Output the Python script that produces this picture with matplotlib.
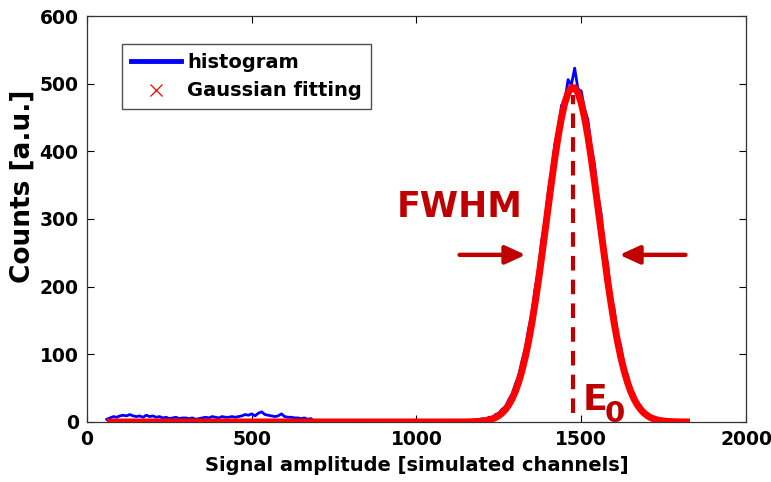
import numpy as np
import matplotlib
matplotlib.use("Agg")
import matplotlib.pyplot as plt
from matplotlib.lines import Line2D

plt.rcParams['font.family'] = ['DejaVu Sans']
plt.rcParams['font.weight'] = 'bold'

# Histogram: channel centres and counts
hist_channels = np.arange(60, 1810, 10)
hist_low = [4, 6, 8, 7, 9, 10, 9, 11, 9, 8, 9, 7, 10, 8, 9, 7, 8, 6, 7, 5,
            6, 7, 5, 6, 6, 5, 6, 4, 5, 6, 7, 6, 8, 7, 6, 8, 7, 7, 8, 7,
            8, 9, 11, 10, 12, 9, 13, 15, 11, 10, 9, 8, 9, 12, 8, 7, 7, 6, 6, 5,
            6, 4, 5]                      # 60 .. 680
hist_gap = [0] * 46                       # 690 .. 1140
hist_peak = [1, 0, 2, 1, 3, 5, 3, 7, 6, 11, 13, 19, 22, 33, 41, 56, 68, 90, 108, 137,
             160, 197, 226, 268, 296, 341, 370, 411, 431, 468, 474, 506, 498, 523, 492,
             489, 462, 447, 408, 381, 336, 309, 259, 233, 188, 166, 129, 112, 82, 70,
             50, 41, 28, 24, 14, 12, 7, 6, 3, 4, 1, 2, 0, 1, 0, 0]   # 1150 .. 1800
hist_counts = hist_low + hist_gap + hist_peak

# Gaussian fit evaluated on the channel grid
fit_channels = np.arange(60, 1840, 10)
fit_flat = [0.0] * 109                    # 60 .. 1140
fit_peak = [0.1, 0.2, 0.4, 0.6, 0.9, 1.4, 2.1, 3.1, 4.6, 6.6, 9.5, 13.4, 18.6, 25.4,
            34.2, 45.2, 59.0, 75.8, 95.8, 119.2, 146.0, 176.2, 209.2, 244.6, 281.5,
            319.0, 355.9, 390.8, 422.6, 449.8, 471.4, 486.4, 494.0, 494.0, 486.4,
            471.4, 449.8, 422.6, 390.8, 355.9, 319.0, 281.5, 244.6, 209.2, 176.2,
            146.0, 119.2, 95.8, 75.8, 59.0, 45.2, 34.2, 25.4, 18.6, 13.4, 9.5, 6.6,
            4.6, 3.1, 2.1, 1.4, 0.9, 0.6, 0.4, 0.2, 0.1]          # 1150 .. 1800
fit_tail = [0.0, 0.0, 0.0]               # 1810 .. 1830
fit_counts = fit_flat + fit_peak + fit_tail

peak_channel = 1475
peak_line_range = [13, 483]
fwhm_left = 1381
fwhm_right = 1566
half_max = 247

x_ticks = [0, 500, 1000, 1500, 2000]
y_ticks = [0, 100, 200, 300, 400, 500, 600]

dark_red = '#C00000'

fig = plt.figure(figsize=(7.71, 4.82), dpi=100)
ax = fig.add_axes([0.1128, 0.1245, 0.8548, 0.8423])

ax.plot(hist_channels, hist_counts, color='#0000FF', lw=2.0, zorder=2)
ax.plot(fit_channels, fit_counts, color='#FF0000', lw=5, solid_capstyle='butt', zorder=3)

# peak position
ax.plot([peak_channel, peak_channel], peak_line_range, color=dark_red, lw=3,
        dashes=(3.5, 2.2), zorder=4)

# FWHM arrows
arrow_kw = dict(arrowstyle='-|>,head_length=1.2,head_width=0.55', color=dark_red,
                lw=3.2, shrinkA=0, shrinkB=0)
ax.annotate('', xy=(fwhm_left - 50, half_max), xytext=(fwhm_left - 250, half_max),
            arrowprops=arrow_kw, zorder=5)
ax.annotate('', xy=(fwhm_right + 50, half_max), xytext=(fwhm_right + 250, half_max),
            arrowprops=arrow_kw, zorder=5)

ax.text(1132, 317, 'FWHM', color=dark_red, fontsize=25, fontweight='bold',
        ha='center', va='center')
ax.text(1505, 33, 'E', color=dark_red, fontsize=26, fontweight='bold',
        ha='left', va='center')
ax.text(1572, 12, '0', color=dark_red, fontsize=21, fontweight='bold',
        ha='left', va='center')

ax.set_xlim(0, 2000)
ax.set_ylim(0, 600)
ax.set_xticks(x_ticks)
ax.set_yticks(y_ticks)
ax.tick_params(direction='in', length=5, width=0.8, top=True, right=True,
               labelsize=13.5, pad=6)
for lab in ax.get_xticklabels() + ax.get_yticklabels():
    lab.set_fontweight('bold')
for sp in ax.spines.values():
    sp.set_linewidth(0.9)
    sp.set_color('#333333')

ax.set_xlabel('Signal amplitude [simulated channels]', fontsize=14, fontweight='bold',
              labelpad=5)
ax.set_ylabel('Counts [a.u.]', fontsize=19, fontweight='bold')
ax.yaxis.label.set_verticalalignment('center')
ax.yaxis.set_label_coords(-0.098, 0.58)

handles = [Line2D([], [], color='#0000FF', lw=3.5),
           Line2D([], [], color='#FF0000', lw=0, marker='x', markersize=9,
                  markeredgewidth=0.9)]
leg = ax.legend(handles, ['histogram', 'Gaussian fitting'], loc='upper left',
                bbox_to_anchor=(0.053, 0.931), fontsize=14, frameon=True,
                fancybox=False, edgecolor='#222222', handlelength=2.6,
                handletextpad=0.3, borderpad=0.45, labelspacing=0.5,
                borderaxespad=0)
leg.get_frame().set_linewidth(1.0)
for t in leg.get_texts():
    t.set_fontweight('bold')

fig.savefig('out.png', dpi=100)
